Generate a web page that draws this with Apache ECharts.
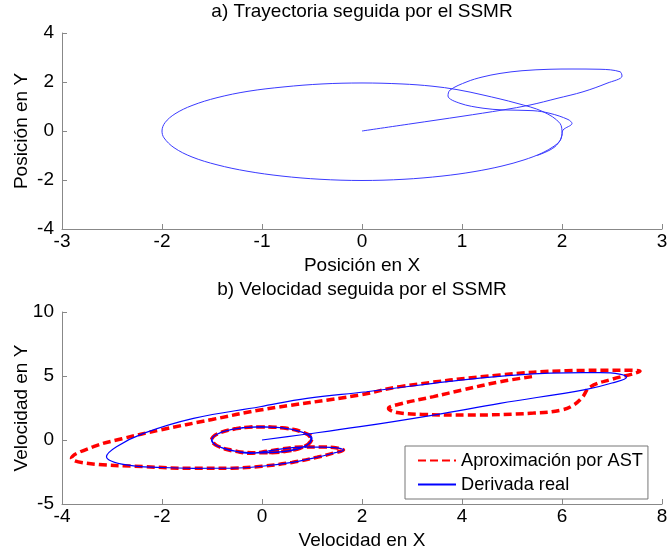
<!DOCTYPE html>
<html>
<head>
<meta charset="utf-8">
<script src="https://cdn.jsdelivr.net/npm/echarts@6/dist/echarts.min.js"></script>
<style>
html,body{margin:0;padding:0;background:#fff;}
#chart{width:670px;height:556px;}
</style>
</head>
<body>
<div id="chart"></div>
<script>
// ---- Data ----
var posX = [0, 0.5, 1.0, 1.41, 1.68, 1.95, 2.21, 2.45, 2.60, 2.58, 2.38, 2.1, 1.88, 1.6, 1.38, 1.2, 1.05, 0.88, 0.86, 0.98, 1.21, 1.41, 1.71, 1.88, 2.06, 2.10, 2.01, 2.00, 1.98, 1.92, 1.80, 1.62, 1.40, 1.12, 0.80, 0.42, 0.0, -0.42, -0.80, -1.15, -1.45, -1.70, -1.88, -1.98, -2.0, -1.97, -1.87, -1.70, -1.45, -1.14, -0.78, -0.40, 0.0, 0.40, 0.70, 0.95, 1.21, 1.55, 1.81, 1.98, 2.0, 1.93, 1.75];
var posY = [0, 0.3, 0.6, 0.86, 1.06, 1.33, 1.60, 1.95, 2.24, 2.42, 2.52, 2.53, 2.52, 2.46, 2.35, 2.2, 2.01, 1.67, 1.43, 1.13, 0.93, 0.86, 0.83, 0.72, 0.47, 0.31, 0.04, -0.16, -0.4, -0.62, -0.9, -1.18, -1.43, -1.66, -1.84, -1.97, -2.02, -1.97, -1.84, -1.64, -1.38, -1.06, -0.68, -0.28, 0.0, 0.34, 0.70, 1.04, 1.36, 1.62, 1.80, 1.92, 1.96, 1.92, 1.83, 1.69, 1.47, 1.13, 0.79, 0.31, -0.1, -0.64, -1.0];

var velRealX = [0, 0.76, 1.96, 3.43, 4.76, 6.49, 7.0, 7.29, 7.15, 6.76, 6.1, 5.43, 4.4, 3.43, 2.09, 0.9, -0.04, -1.37, -2.37, -2.91, -3.11, -2.71, -2.0, -1.37, -0.6, 0, 0.6, 1.1, 1.45, 1.63, 1.5, 1.2, 0.8, 0.4, 0.1, -0.24, -0.6, -0.9, -1.01, -0.9, -0.6, -0.1, 0.4, 0.8, 1.0, 0.9, 0.55, 0.0, -0.5, -0.9, -1.0, -0.85, -0.5, 0, 0.5, 0.85, 0.98, 0.85, 0.5, 0];
var velRealY = [0, 0.39, 1.04, 1.95, 2.86, 3.96, 4.45, 4.9, 5.15, 5.26, 5.25, 5.16, 4.85, 4.43, 3.77, 3.25, 2.6, 1.69, 0.52, -0.52, -1.3, -1.95, -2.15, -2.21, -2.2, -2.05, -1.75, -1.35, -1.0, -0.78, -0.62, -0.55, -0.55, -0.7, -0.88, -1.04, -0.8, -0.45, 0.0, 0.45, 0.82, 1.02, 0.95, 0.62, 0.15, -0.4, -0.85, -1.0, -0.9, -0.45, 0.05, 0.55, 0.9, 1.02, 0.9, 0.55, 0.05, -0.5, -0.85, -1.0];

var velAstX = [5.4, 4.76, 4.0, 3.43, 2.76, 2.53, 2.7, 3.2, 4.09, 5.43, 6.0, 6.23, 6.4, 6.56, 7.0, 7.4, 7.56, 7.2, 6.09, 4.76, 2.76, 1.96, -0.04, -1.0, -2.04, -2.8, -3.37, -3.81, -3.51, -2.37, -1.37, -0.6, 0, 0.6, 1.1, 1.45, 1.63, 1.5, 1.2, 0.8, 0.4, 0.1, -0.24, -0.6, -0.9, -1.01, -0.9, -0.6, -0.1, 0.4, 0.8, 1.0, 0.9, 0.55, 0.0, -0.5, -0.9, -1.0, -0.85, -0.5, 0, 0.5, 0.85, 0.98, 0.85, 0.5, 0];
var velAstY = [4.95, 4.55, 3.9, 3.39, 2.81, 2.47, 2.15, 2.0, 1.95, 2.1, 2.35, 2.73, 3.3, 4.14, 4.75, 5.15, 5.37, 5.45, 5.41, 5.08, 4.17, 3.52, 2.34, 1.6, 0.78, 0.1, -0.52, -1.43, -1.82, -2.08, -2.21, -2.2, -2.05, -1.75, -1.35, -1.0, -0.78, -0.62, -0.55, -0.55, -0.7, -0.88, -1.04, -0.8, -0.45, 0.0, 0.45, 0.82, 1.02, 0.95, 0.62, 0.15, -0.4, -0.85, -1.0, -0.9, -0.45, 0.05, 0.55, 0.9, 1.02, 0.9, 0.55, 0.05, -0.5, -0.85, -1.0];

var posXTicks = [-3, -2, -1, 0, 1, 2, 3];
var posYTicks = [-4, -2, 0, 2, 4];
var velXTicks = [-4, -2, 0, 2, 4, 6, 8];
var velYTicks = [-5, 0, 5, 10];

var titleA = 'a) Trayectoria seguida por el SSMR';
var titleB = 'b) Velocidad seguida por el SSMR';
var nameAstSeries = 'Aproximación por AST';
var nameRealSeries = 'Derivada real';

function pairs(xs, ys) { return xs.map(function (x, i) { return [x, ys[i]]; }); }

var FONT = 'Liberation Sans, Arial, sans-serif';
var FS = 19;
function ax(extra, labelMargin) {
  return Object.assign({
    type: 'value',
    axisLine: { show: true, onZero: false, lineStyle: { color: '#888', width: 1 } },
    axisTick: { show: true, inside: true, length: 5, lineStyle: { color: '#888' } },
    splitLine: { show: false },
    axisLabel: { color: '#000', fontSize: FS, fontFamily: FONT, margin: labelMargin },
    nameTextStyle: { color: '#000', fontSize: FS, fontFamily: FONT },
    nameLocation: 'middle',
    nameMoveOverlap: false
  }, extra);
}

var chart = echarts.init(document.getElementById('chart'), null, { renderer: 'canvas' });
chart.setOption({
  animation: false,
  backgroundColor: '#fff',
  grid: [
    { left: 62, top: 33, width: 600, height: 196, containLabel: false, outerBoundsMode: 'none' },
    { left: 62, top: 312, width: 600, height: 192, containLabel: false, outerBoundsMode: 'none' }
  ],
  xAxis: [
    ax({ gridIndex: 0, min: posXTicks[0], max: posXTicks[posXTicks.length - 1], interval: 1, name: 'Posición en X', nameGap: 27 }, 3),
    ax({ gridIndex: 1, min: velXTicks[0], max: velXTicks[velXTicks.length - 1], interval: 2, name: 'Velocidad en X', nameGap: 27 }, 3)
  ],
  yAxis: [
    ax({ gridIndex: 0, min: posYTicks[0], max: posYTicks[posYTicks.length - 1], interval: 2, name: 'Posición en Y', nameGap: 31 }, 8),
    ax({ gridIndex: 1, min: velYTicks[0], max: velYTicks[velYTicks.length - 1], interval: 5, name: 'Velocidad en Y', nameGap: 31 }, 8)
  ],
  legend: {
    data: [nameAstSeries, nameRealSeries],
    orient: 'vertical',
    left: 405, top: 446,
    itemWidth: 38, itemHeight: 12, itemGap: 3, itemTextGap: 3,
    padding: [4, 5, 4, 12],
    backgroundColor: '#fff',
    borderColor: '#777', borderWidth: 1, borderRadius: 0,
    itemStyle: { opacity: 0 },
    textStyle: { color: '#000', fontSize: 18.2, fontFamily: FONT, lineHeight: 21 }
  },
  graphic: [
    { type: 'text', x: 362, y: 12, style: { text: titleA, fill: '#000', font: FS + 'px ' + FONT, textAlign: 'center', textVerticalAlign: 'middle' } },
    { type: 'text', x: 362, y: 290, style: { text: titleB, fill: '#000', font: FS + 'px ' + FONT, textAlign: 'center', textVerticalAlign: 'middle' } }
  ],
  series: [
    { type: 'line', name: 'Trayectoria', xAxisIndex: 0, yAxisIndex: 0, data: pairs(posX, posY), symbol: 'none', smooth: 0.35, lineStyle: { color: '#3a3aff', width: 1 } },
    { type: 'line', name: nameAstSeries, xAxisIndex: 1, yAxisIndex: 1, data: pairs(velAstX, velAstY), symbol: 'none', smooth: 0.4, color: '#ff0000', lineStyle: { color: '#ff0000', width: 3.5, type: [8, 4] } },
    { type: 'line', name: nameRealSeries, xAxisIndex: 1, yAxisIndex: 1, data: pairs(velRealX, velRealY), symbol: 'none', smooth: 0.4, color: '#0000ff', lineStyle: { color: '#0000ff', width: 1.2 } }
  ]
});
</script>
</body>
</html>
